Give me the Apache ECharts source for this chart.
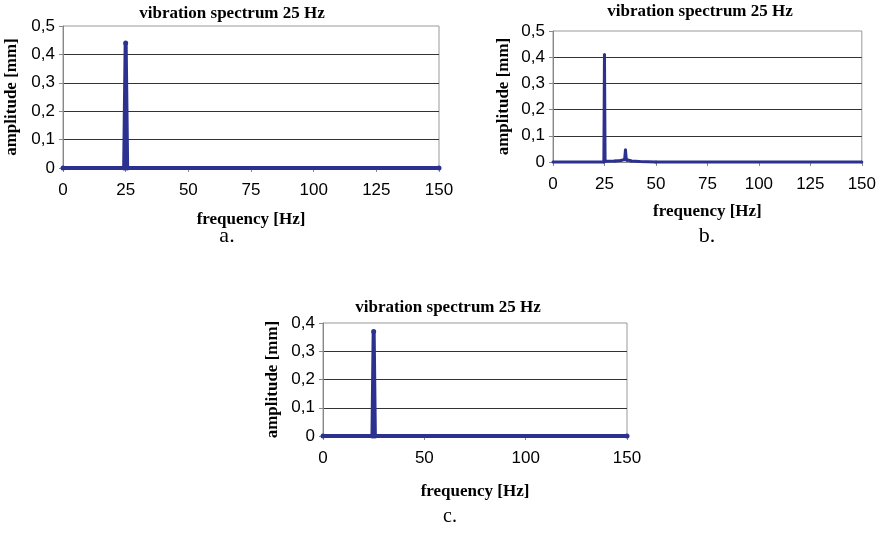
<!DOCTYPE html>
<html>
<head>
<meta charset="utf-8">
<script src="https://cdn.jsdelivr.net/npm/echarts@6/dist/echarts.min.js"></script>
<style>
  html, body { margin: 0; padding: 0; background: #fff; }
  #chart { width: 879px; height: 536px; }
</style>
</head>
<body>
<div id="chart"></div>
<script>
// spectrum a: single peak at 25 Hz
const freqA = [0, 24.4, 25, 25.6, 150]
const ampA = [0, 0, 0.44, 0, 0]
// spectrum b: peak at 25 Hz plus small side peak near 35 Hz
const freqB = [0, 24.7, 25, 25.3, 30, 33, 34.8, 35.2, 35.6, 36, 38, 42, 50, 150]
const ampB = [0, 0, 0.41, 0.003, 0.004, 0.006, 0.01, 0.047, 0.01, 0.006, 0.004, 0.002, 0, 0]
// spectrum c
const freqC = [0, 24.4, 25, 25.6, 150]
const ampC = [0, 0, 0.37, 0, 0]

const panelTitle = 'vibration spectrum 25 Hz'
const xName = 'frequency [Hz]'
const yName = 'amplitude [mm]'
const panelLabels = ['a.', 'b.', 'c.']

const lineColor = '#2c3190'
const serif = '"Liberation Serif", "Times New Roman", serif'
const sans = '"Liberation Sans", Arial, sans-serif'

function pairs(xs, ys) {
  return xs.map((x, i) => [x, ys[i]])
}

function fmtY(v) {
  return v === 0 ? '0' : v.toFixed(1).replace('.', ',')
}

function makeX(idx, interval, gap) {
  return {
    gridIndex: idx,
    type: 'value',
    min: 0,
    max: 150,
    interval: interval,
    name: xName,
    nameLocation: 'middle',
    nameGap: gap,
    nameTextStyle: { fontFamily: serif, fontWeight: 'bold', fontSize: 17, color: '#000' },
    axisLine: { show: true, lineStyle: { color: '#888', width: 1 } },
    axisTick: { show: true, length: 4, lineStyle: { color: '#888' } },
    axisLabel: { color: '#000', fontFamily: sans, fontSize: 17, margin: 14 },
    splitLine: { show: false }
  }
}

function makeY(idx, max, gap) {
  return {
    gridIndex: idx,
    type: 'value',
    min: 0,
    max: max,
    interval: 0.1,
    name: yName,
    nameLocation: 'middle',
    nameGap: gap,
    nameTextStyle: { fontFamily: serif, fontWeight: 'bold', fontSize: 17, color: '#000' },
    axisLine: { show: true, lineStyle: { color: '#888', width: 1 } },
    axisTick: { show: true, length: 4, lineStyle: { color: '#888' } },
    axisLabel: { color: '#000', fontFamily: sans, fontSize: 17, margin: 8, formatter: fmtY },
    splitLine: { show: true, showMinLine: false, showMaxLine: false, lineStyle: { color: '#333', width: 1 } }
  }
}

function makeSeries(idx, data, width, dot) {
  return {
    type: 'line',
    xAxisIndex: idx,
    yAxisIndex: idx,
    data: data,
    clip: false,
    symbol: 'circle',
    symbolSize: dot,
    showSymbol: true,
    lineStyle: { color: lineColor, width: width },
    itemStyle: { color: lineColor },
    animation: false,
    z: 5
  }
}

const chart = echarts.init(document.getElementById('chart'))

const titleStyle = { fontFamily: serif, fontWeight: 'bold', fontSize: 17, color: '#000' }
const labelStyle = { fontFamily: serif, fontWeight: 'normal', fontSize: 22, color: '#000' }

chart.setOption({
  animation: false,
  title: [
    { text: panelTitle, left: 232, top: 5, textAlign: 'center', textStyle: titleStyle, padding: 0 },
    { text: panelTitle, left: 700, top: 3, textAlign: 'center', textStyle: titleStyle, padding: 0 },
    { text: panelTitle, left: 448, top: 299, textAlign: 'center', textStyle: titleStyle, padding: 0 },
    { text: panelLabels[0], left: 227, top: 225, textAlign: 'center', textStyle: labelStyle, padding: 0 },
    { text: panelLabels[1], left: 707, top: 225, textAlign: 'center', textStyle: labelStyle, padding: 0 },
    { text: panelLabels[2], left: 450, top: 507, textAlign: 'center', textStyle: Object.assign({}, labelStyle, { fontSize: 20 }), padding: 0 }
  ],
  grid: [
    { left: 63, top: 26, right: 440, bottom: 368, show: true, borderColor: '#999', borderWidth: 1 },
    { left: 553, top: 31, right: 14, bottom: 374, show: true, borderColor: '#999', borderWidth: 1 },
    { left: 323, top: 323, right: 252, bottom: 100, show: true, borderColor: '#999', borderWidth: 1 }
  ],
  xAxis: [makeX(0, 25, 43.5), makeX(1, 25, 41), makeX(2, 50, 47)],
  yAxis: [makeY(0, 0.5, 42.5), makeY(1, 0.5, 41), makeY(2, 0.4, 42)],
  series: [
    makeSeries(0, pairs(freqA, ampA), 4, 5),
    makeSeries(1, pairs(freqB, ampB), 3, 3),
    makeSeries(2, pairs(freqC, ampC), 4, 5)
  ]
})
</script>
</body>
</html>
